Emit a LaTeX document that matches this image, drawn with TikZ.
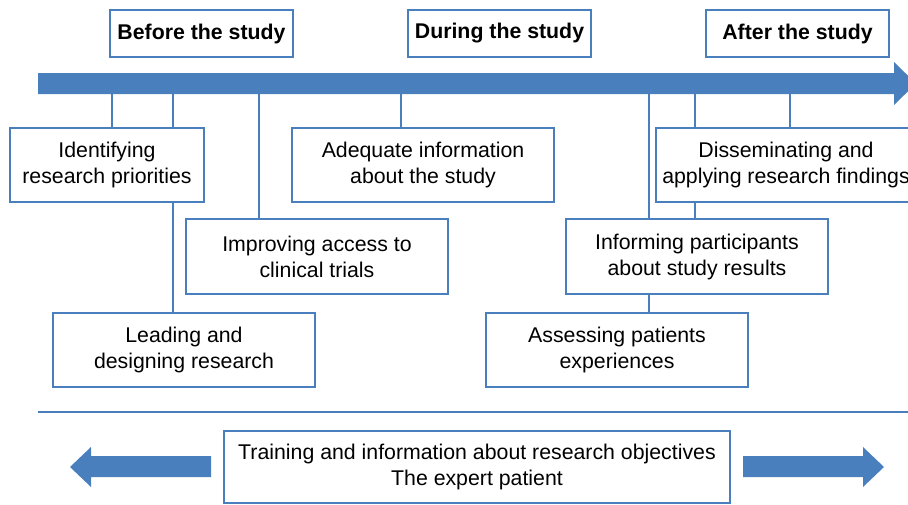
\documentclass[tikz,border=0pt]{standalone}
\usepackage{fontspec}
\setmainfont{Liberation Sans}
\definecolor{cblue}{HTML}{4A7FBE}
\tikzset{
  box/.style={draw=cblue, line width=1.6pt, fill=white, rectangle, align=center,
    inner sep=0pt, font=\fontsize{21.3}{26}\selectfont, minimum height=74pt},
  head/.style={box, font=\fontsize{21.3}{26}\selectfont\bfseries, minimum width=183pt, minimum height=47pt},
  conn/.style={draw=cblue, line width=1.6pt},
  bigarrow/.style={fill=cblue, draw=none}
}
\begin{document}
\begin{tikzpicture}[x=1pt,y=-1pt]
\useasboundingbox (0,0) rectangle (908,504);
\clip (0,0) rectangle (908,504);
% header boxes
\node[head] (before) at (201.5,33.5) {Before the study};
\node[head] (during) at (499.5,33.5) {During the study};
\node[head] (after) at (797.5,33.5) {After the study};
% timeline arrow
\fill[bigarrow] (38,73) -- (894,73) -- (894,62) -- (916,83.5) -- (894,105) -- (894,94) -- (38,94) -- cycle;
\coordinate (b1) at (112,94);
\coordinate (b2) at (173,94);
\coordinate (b3) at (259,94);
\coordinate (b4) at (401,94);
\coordinate (b5) at (649,94);
\coordinate (b6) at (695,94);
\coordinate (b7) at (790,94);
% boxes
\node[box, minimum width=194pt] (ident) at (107,165) {Identifying\\research priorities};
\node[box, minimum width=262pt] (adeq) at (423,165) {Adequate information\\about the study};
\node[box, minimum width=260pt] (dissem) at (786,165) {Disseminating and\\applying research findings};
\node[box, minimum width=262pt, minimum height=75pt] (improv) at (317,256.5) {Improving access to\\clinical trials};
\node[box, minimum width=262pt, minimum height=75pt] (inform) at (697,256.5) {Informing participants\\about study results};
\node[box, minimum width=262pt] (lead) at (184,350) {Leading and\\designing research};
\node[box, minimum width=262pt] (assess) at (617,350) {Assessing patients\\experiences};
% connectors
\draw[conn] (b1) -- (ident.north -| b1);
\draw[conn] (b2) -- (ident.north -| b2);
\draw[conn] (ident.south -| b2) -- (lead.north -| b2);
\draw[conn] (b3) -- (improv.north -| b3);
\draw[conn] (b4) -- (adeq.north -| b4);
\draw[conn] (b5) -- (inform.north -| b5);
\draw[conn] (inform.south -| b5) -- (assess.north -| b5);
\draw[conn] (b6) -- (dissem.north -| b6);
\draw[conn] (dissem.south -| b6) -- (inform.north -| b6);
\draw[conn] (b7) -- (dissem.north -| b7);
% separator
\coordinate (s1) at (38,412);
\coordinate (s2) at (908,412);
\draw[conn] (s1) -- (s2);
% bottom
\node[box, minimum width=506pt, minimum height=72pt] (train) at (477,467) {Training and information about research objectives\\The expert patient};
\fill[bigarrow] (211,456) -- (91,456) -- (91,447) -- (70,467) -- (91,487) -- (91,477) -- (211,477) -- cycle;
\fill[bigarrow] (743,456) -- (863,456) -- (863,447) -- (884,467) -- (863,487) -- (863,477) -- (743,477) -- cycle;
\end{tikzpicture}
\end{document}
